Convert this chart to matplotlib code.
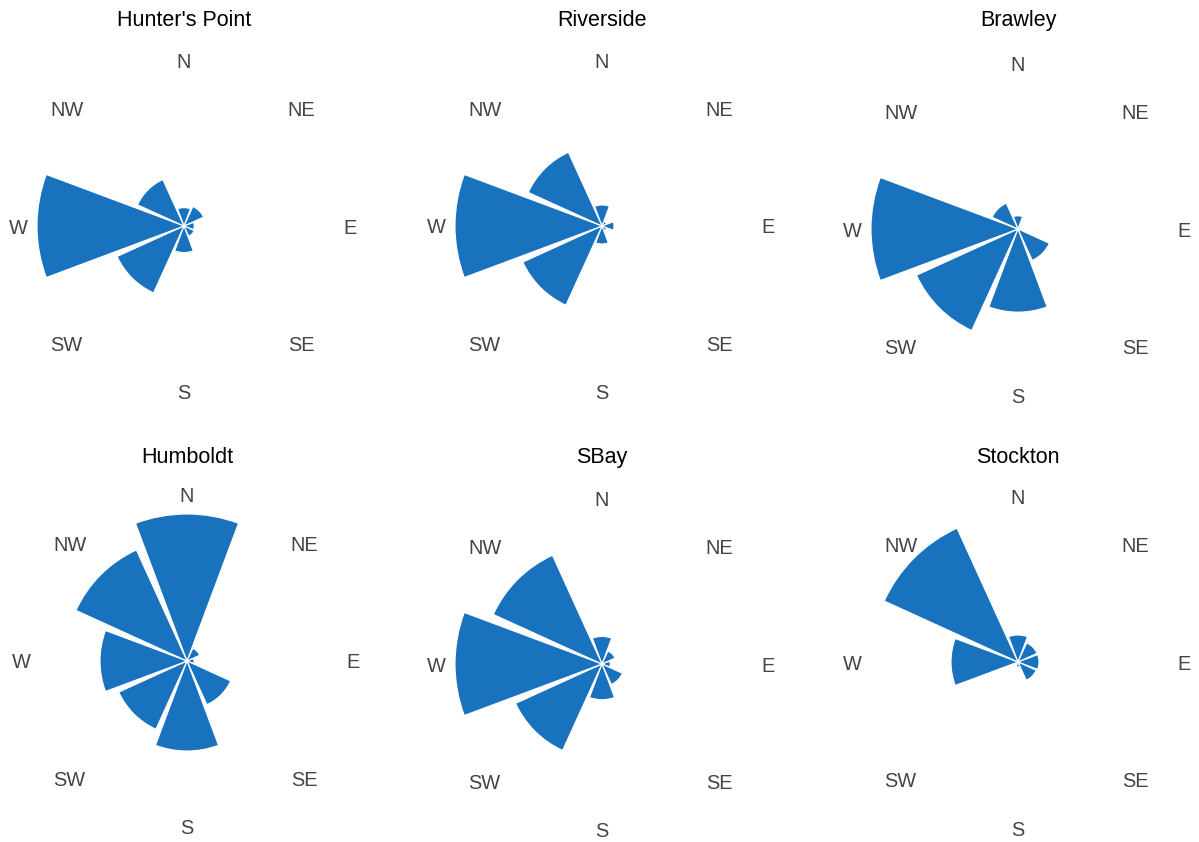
import numpy as np
import matplotlib
matplotlib.use('Agg')
import matplotlib.pyplot as plt

plt.rcParams['font.family'] = ['Liberation Sans', 'DejaVu Sans']

# wind direction sectors, clockwise from north
directions = ['N', 'NE', 'E', 'SE', 'S', 'SW', 'W', 'NW']
stations = ["Hunter's Point", 'Riverside', 'Brawley', 'Humboldt', 'SBay', 'Stockton']

# relative frequency per sector
hunters_point = [18, 21, 10, 11, 26, 72, 144, 50]
riverside = [21, 5, 12, 5, 18, 87, 147, 81]
brawley = [13, 3, 3, 34, 82, 110, 145, 28]
humboldt = [147, 14, 7, 48, 90, 75, 87, 122]
sbay = [27, 14, 8, 22, 35, 93, 144, 117]
stockton = [27, 21, 21, 20, 5, 3, 67, 147]
freqs = [hunters_point, riverside, brawley, humboldt, sbay, stockton]

W, H = 1199, 842
R = 150  # axes radius in px
centers = [(184, 226), (602, 226), (1018, 229), (187, 661), (602, 664), (1018, 662)]
title_y = [18, 18, 18, 455, 455, 455]

fig = plt.figure(figsize=(W / 100, H / 100), dpi=100)

theta = np.deg2rad(np.arange(len(directions)) * 45)
for name, vals, (cx, cy), ty in zip(stations, freqs, centers, title_y):
    ax = fig.add_axes([(cx - R) / W, 1 - (cy + R) / H, 2 * R / W, 2 * R / H], projection='polar')
    ax.set_theta_zero_location('N')
    ax.set_theta_direction(-1)
    ax.bar(theta, vals, width=np.deg2rad(41), color='#1872bd', edgecolor='white', linewidth=0.8)
    rmax = max(vals) * R / 147
    ax.set_ylim(0, rmax)
    ax.set_xticks([])
    ax.set_yticks([])
    ax.grid(False)
    ax.spines['polar'].set_visible(False)
    ax.set_facecolor('none')
    for t, lab in zip(theta, directions):
        ax.text(t, rmax * 166 / R, lab, ha='center', va='center_baseline', fontsize=14.4,
                color='#444444', clip_on=False)
    fig.text(cx / W, 1 - ty / H, name, ha='center', va='center_baseline', fontsize=15.5, color='black')

fig.savefig('out.png', dpi=100)
